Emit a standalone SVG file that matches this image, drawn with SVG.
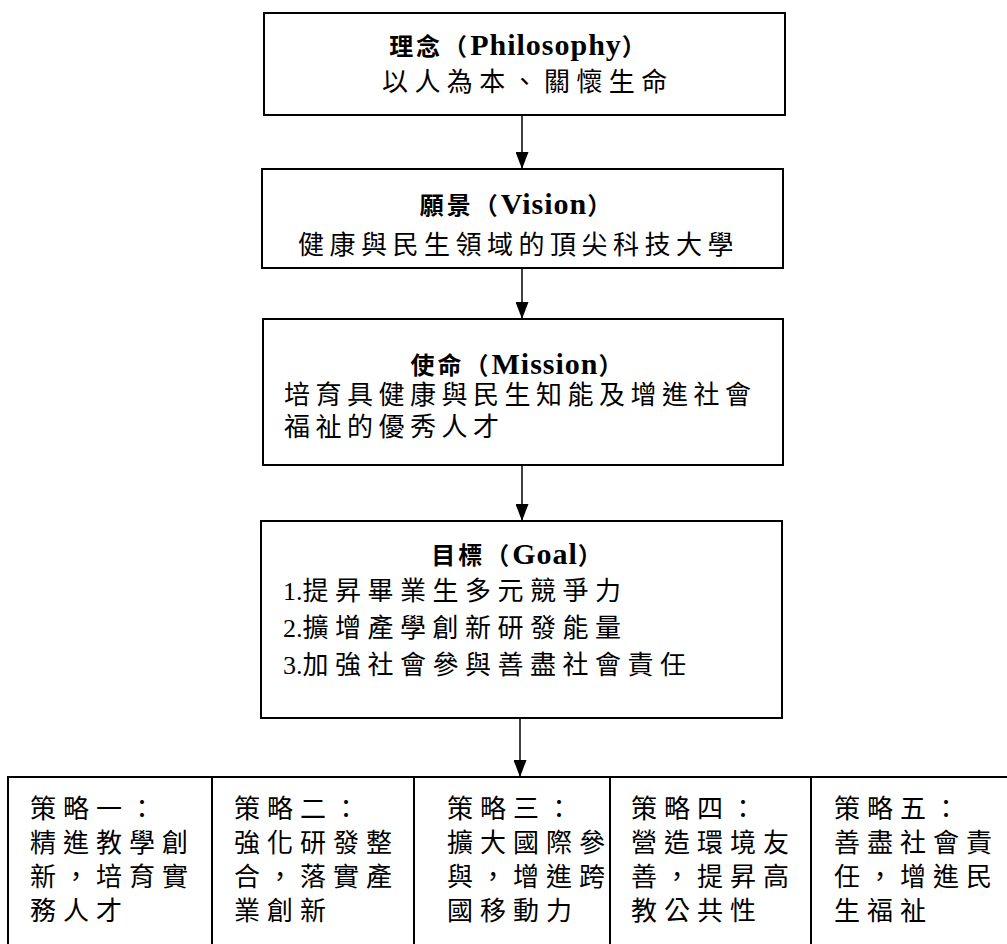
<svg xmlns="http://www.w3.org/2000/svg" width="1007" height="944" viewBox="0 0 1007 944">
<style>
.box{fill:#fff;stroke:#000;stroke-width:2}
.t{font-family:"Liberation Serif","Noto Sans CJK TC",serif;fill:#000}
.ti{font-size:24px;font-weight:bold;letter-spacing:3px}
.lat{font-size:30px;font-weight:bold;letter-spacing:1px}
.b{font-size:26px;letter-spacing:5.5px}
.g{letter-spacing:6.5px}
.s{font-size:26px;letter-spacing:7px}
.n{letter-spacing:0}
.c{stroke:#000;stroke-width:1.5;fill:none}
</style>
<defs>
<marker id="ah" markerUnits="userSpaceOnUse" markerWidth="17" markerHeight="13" refX="17" refY="6.5" orient="auto">
<path d="M0,0 L17,6.5 L0,13 z" fill="#000"/>
</marker>
</defs>
<rect width="1007" height="944" fill="#fff"/>
<g id="connectors">
<line class="c" x1="522" y1="115" x2="522" y2="169" marker-end="url(#ah)"/>
<line class="c" x1="522" y1="268" x2="522" y2="319" marker-end="url(#ah)"/>
<line class="c" x1="522" y1="465" x2="522" y2="521" marker-end="url(#ah)"/>
<line class="c" x1="520" y1="718" x2="520" y2="777" marker-end="url(#ah)"/>
</g>
<g id="philosophy">
<rect class="box" x="264" y="13" width="521" height="102"/>
<text class="t ti" x="519" y="55" text-anchor="middle">理念（<tspan class="lat">Philosophy</tspan>）</text>
<text class="t b" x="382" y="91" style="letter-spacing:6.4px">以人為本、關懷生命</text>
</g>
<g id="vision">
<rect class="box" x="262" y="169" width="521" height="99"/>
<text class="t ti" x="517" y="214" text-anchor="middle">願景（<tspan class="lat">Vision</tspan>）</text>
<text class="t b" x="298" y="254">健康與民生領域的頂尖科技大學</text>
</g>
<g id="mission">
<rect class="box" x="263" y="319" width="520" height="146"/>
<text class="t ti" x="518" y="374" text-anchor="middle">使命（<tspan class="lat">Mission</tspan>）</text>
<text class="t b" x="284" y="404">培育具健康與民生知能及增進社會</text>
<text class="t b" x="284" y="436">福祉的優秀人才</text>
</g>
<g id="goal">
<rect class="box" x="261" y="521" width="521" height="197"/>
<text class="t ti" x="518" y="564" text-anchor="middle">目標（<tspan class="lat">Goal</tspan>）</text>
<text class="t b g" x="283" y="600"><tspan class="n">1.</tspan>提昇畢業生多元競爭力</text>
<text class="t b g" x="283" y="637"><tspan class="n">2.</tspan>擴增產學創新研發能量</text>
<text class="t b g" x="283" y="674"><tspan class="n">3.</tspan>加強社會參與善盡社會責任</text>
</g>
<g id="strategy1">
<rect class="box" x="8" y="777" width="204" height="190"/>
<text class="t s" x="30" y="818">策略一：</text>
<text class="t s" x="30" y="852">精進教學創</text>
<text class="t s" x="30" y="886">新，培育實</text>
<text class="t s" x="30" y="920">務人才</text>
</g>
<g id="strategy2">
<rect class="box" x="212" y="777" width="202" height="190"/>
<text class="t s" x="234" y="818">策略二：</text>
<text class="t s" x="234" y="852">強化研發整</text>
<text class="t s" x="234" y="886">合，落實產</text>
<text class="t s" x="234" y="920">業創新</text>
</g>
<g id="strategy3">
<rect class="box" x="414" y="777" width="196" height="190"/>
<text class="t s" x="447" y="818">策略三：</text>
<text class="t s" x="447" y="852">擴大國際參</text>
<text class="t s" x="447" y="886">與，增進跨</text>
<text class="t s" x="447" y="920">國移動力</text>
</g>
<g id="strategy4">
<rect class="box" x="610" y="777" width="201" height="190"/>
<text class="t s" x="631" y="818">策略四：</text>
<text class="t s" x="631" y="852">營造環境友</text>
<text class="t s" x="631" y="886">善，提昇高</text>
<text class="t s" x="631" y="920">教公共性</text>
</g>
<g id="strategy5">
<rect class="box" x="811" y="777" width="210" height="190"/>
<text class="t s" x="834" y="818">策略五：</text>
<text class="t s" x="834" y="852">善盡社會責</text>
<text class="t s" x="834" y="886">任，增進民</text>
<text class="t s" x="834" y="920">生福祉</text>
</g>
</svg>
